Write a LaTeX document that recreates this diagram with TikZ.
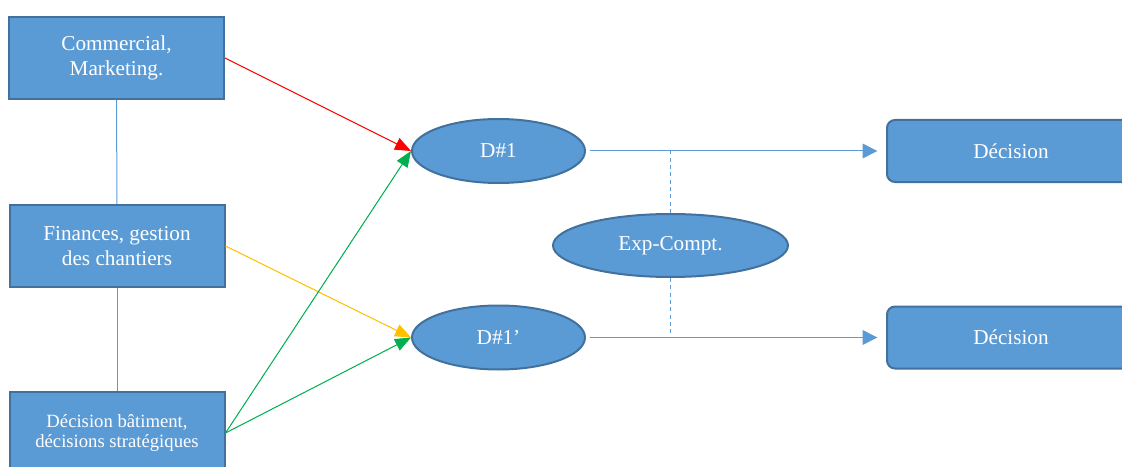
\documentclass[tikz,border=0pt]{standalone}
\usepackage{fontspec}
\setmainfont{Liberation Serif}
\usepackage{xcolor}
\usetikzlibrary{arrows.meta,shapes.geometric}

\definecolor{boxfill}{RGB}{91,155,213}
\definecolor{boxline}{RGB}{65,113,156}
\definecolor{arrowred}{RGB}{255,0,0}
\definecolor{arroworange}{RGB}{255,192,0}
\definecolor{arrowgreen}{RGB}{0,176,80}

\tikzset{
  dept/.style={draw=boxline, fill=boxfill, line width=1.5pt, text=white, align=center, inner sep=0pt,
    minimum width=161.25pt, minimum height=61.5pt, font=\fontsize{15.9}{18.6}\selectfont},
  deci/.style={dept, ellipse, minimum width=129.75pt, minimum height=48pt},
  outbox/.style={dept, rounded corners=6pt, minimum width=186pt, minimum height=46.5pt},
  link/.style={draw=boxfill, line width=0.75pt},
  flow/.style={line width=0.75pt, -{Triangle[length=12pt,width=9.5pt]}},
}

\begin{document}
\begin{tikzpicture}[x=0.75pt,y=0.75pt,yscale=-1,xscale=1]
\useasboundingbox (0,0) rectangle (1122,467);

%Shape: Rectangle [services]
\node [dept] (com) at (116.5,58) {Commercial,\\Marketing.};
\node [dept] (fin) at (117,246) {Finances, gestion\\des chantiers};
\node [dept, font=\fontsize{14}{15.6}\selectfont] (bat) at (117,433) {Décision bâtiment,\\décisions stratégiques};

%Shape: Ellipse [decisions]
\node [deci] (d1) at (498.5,151) {D\#1};
\node [deci] (d1p) at (498.5,337.5) {D\#1’};
\node [deci, minimum width=176.25pt, minimum height=47.25pt] (exp) at (670.5,245.5) {Exp-Compt.};

%Shape: Rounded Rectangle [outputs]
\node [outbox] (dec1) at (1011,151) {Décision};
\node [outbox] (dec2) at (1011,337.5) {Décision};

%Straight Lines [vertical link]
\draw [link] (com.south) -- (fin.north);
\draw [link] (fin.south) -- (bat.north);

%Straight Lines [inputs]
\draw [flow, draw=arrowred, fill=arrowred] (com.east) -- (d1.west);
\draw [flow, draw=arroworange, fill=arroworange] (fin.east) -- (d1p.west);
\draw [flow, draw=arrowgreen, fill=arrowgreen] (bat.east) -- (d1.west);
\draw [flow, draw=arrowgreen, fill=arrowgreen] (bat.east) -- (d1p.west);

%Straight Lines [outputs]
\draw [link, -{Triangle[length=11pt,width=11pt]}, fill=boxfill, shorten <=3pt, shorten >=6.5pt] (d1.east) -- (dec1.west);
\draw [link, -{Triangle[length=11pt,width=11pt]}, fill=boxfill, shorten <=3pt, shorten >=6.5pt] (d1p.east) -- (dec2.west);

%Dashed Lines [expert]
\draw [link, dash pattern=on 3pt off 2.5pt] (exp.north) -- (exp.north |- d1.east);
\draw [link, dash pattern=on 3pt off 2.5pt] (exp.south) -- (exp.south |- d1p.east);

\end{tikzpicture}
\end{document}
